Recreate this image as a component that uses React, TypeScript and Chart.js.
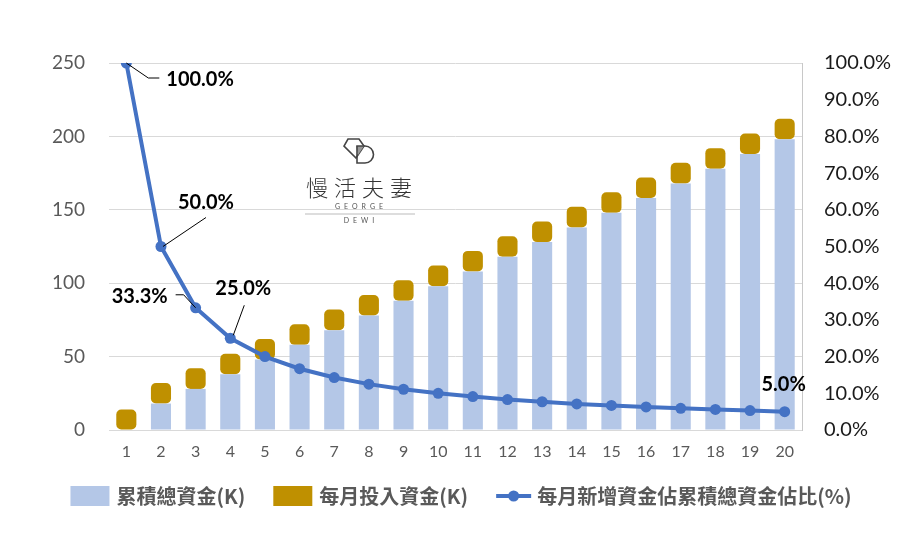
import React, { useEffect, useRef } from 'react';
import { Chart, ChartConfiguration, Plugin, registerables } from 'chart.js';

Chart.register(...registerables);

const months = ['1', '2', '3', '4', '5', '6', '7', '8', '9', '10', '11', '12', '13', '14', '15', '16', '17', '18', '19', '20'];
const totalFunds = [0, 18, 28, 38, 48, 58, 68, 78, 88, 98, 108, 118, 128, 138, 148, 158, 168, 178, 188, 198];
const monthlyFunds = [14, 14, 14, 14, 14, 14, 14, 14, 14, 14, 14, 14, 14, 14, 14, 14, 14, 14, 14, 14];
const newShare = [100, 50, 33.3, 25, 20, 16.7, 14.3, 12.5, 11.1, 10, 9.1, 8.3, 7.7, 7.1, 6.7, 6.3, 5.9, 5.6, 5.3, 5];
const seriesNames = ['累積總資金(K)', '每月投入資金(K)', '每月新增資金佔累積總資金佔比(%)'];

const BLUE = '#B4C7E7';
const GOLD = '#BF9000';
const LINE = '#4472C4';
const CJK = '"Noto Sans CJK TC", "Noto Sans", sans-serif';
const LATIN = 'Lato, "Noto Sans", sans-serif';

// where each shown data label sits relative to its point
type Spot = { index: number; align: CanvasTextAlign; dx: number; dy: number; leader: number[][] | null };
const labelSpots: Spot[] = [
  { index: 0, align: 'left', dx: 40, dy: 17, leader: [[0, 0], [22, 15], [33, 15]] },
  { index: 1, align: 'center', dx: 45, dy: -44, leader: [[2, 0], [45, -29]] },
  { index: 2, align: 'right', dx: -28, dy: -11, leader: [[0, 0], [-12, -13], [-20, -13]] },
  { index: 3, align: 'center', dx: 13, dy: -50, leader: [[3, -3], [14, -33]] },
  { index: 19, align: 'center', dx: -1, dy: -27, leader: null },
];

const dataLabels: Plugin<'bar'> = {
  id: 'dataLabels',
  afterDatasetsDraw(chart) {
    const ctx = chart.ctx;
    const meta = chart.getDatasetMeta(2);
    ctx.save();
    ctx.font = `bold 20px ${LATIN}`;
    ctx.fillStyle = '#000';
    ctx.strokeStyle = '#000';
    ctx.lineWidth = 1;
    ctx.textBaseline = 'middle';
    labelSpots.forEach((s) => {
      const pt = meta.data[s.index];
      if (!pt) return;
      if (s.leader) {
        ctx.beginPath();
        s.leader.forEach(([lx, ly], i) => {
          if (i === 0) ctx.moveTo(pt.x + lx, pt.y + ly);
          else ctx.lineTo(pt.x + lx, pt.y + ly);
        });
        ctx.stroke();
      }
      ctx.textAlign = s.align;
      ctx.fillText(newShare[s.index].toFixed(1) + '%', pt.x + s.dx, pt.y + s.dy);
    });
    ctx.restore();
  },
};

const watermark: Plugin<'bar'> = {
  id: 'watermark',
  beforeDatasetsDraw(chart) {
    const ctx = chart.ctx;
    const cx = 359;
    ctx.save();
    // logo mark
    ctx.strokeStyle = '#444';
    ctx.lineWidth = 1.6;
    ctx.beginPath();
    ctx.moveTo(348, 139);
    ctx.lineTo(359, 139);
    ctx.lineTo(364, 146);
    ctx.lineTo(356, 158);
    ctx.lineTo(344, 146);
    ctx.closePath();
    ctx.stroke();
    ctx.fillStyle = '#999';
    ctx.beginPath();
    ctx.moveTo(356, 146);
    ctx.lineTo(364, 146);
    ctx.lineTo(358, 155);
    ctx.closePath();
    ctx.fill();
    ctx.beginPath();
    ctx.moveTo(357, 146);
    ctx.lineTo(365, 146);
    ctx.arc(365, 154.5, 8.5, -Math.PI / 2, Math.PI / 2);
    ctx.lineTo(357, 163);
    ctx.closePath();
    ctx.stroke();

    ctx.fillStyle = '#333';
    ctx.textAlign = 'center';
    ctx.textBaseline = 'middle';
    ctx.font = `300 22px ${CJK}`;
    (ctx as any).letterSpacing = '6px';
    ctx.fillText('慢活夫妻', cx + 3, 188);
    ctx.font = `7px ${LATIN}`;
    (ctx as any).letterSpacing = '4px';
    ctx.fillStyle = '#555';
    ctx.fillText('GEORGE', cx + 2, 207);
    ctx.fillText('DEWI', cx + 2, 221);
    ctx.strokeStyle = '#aaa';
    ctx.lineWidth = 0.8;
    ctx.beginPath();
    ctx.moveTo(305, 214);
    ctx.lineTo(415, 214);
    ctx.stroke();
    ctx.restore();
  },
};

const bottomLegend: Plugin<'bar'> = {
  id: 'bottomLegend',
  afterDraw(chart) {
    const ctx = chart.ctx;
    const boxW = 39;
    const boxH = 20;
    const gap = 7;
    const itemGap = 28;
    ctx.save();
    ctx.font = `bold 20px ${CJK}`;
    const widths = seriesNames.map((n, i) => (i === 2 ? 41 : boxW + gap) + ctx.measureText(n).width);
    const total = widths.reduce((a, b) => a + b, 0) + itemGap * (widths.length - 1);
    let x = 461 - total / 2;
    const y = 496;
    seriesNames.forEach((name, i) => {
      if (i === 0 || i === 1) {
        ctx.fillStyle = i === 0 ? BLUE : GOLD;
        ctx.fillRect(x, y - boxH / 2, boxW, boxH);
      } else {
        ctx.strokeStyle = LINE;
        ctx.lineWidth = 4;
        ctx.beginPath();
        ctx.moveTo(x, y);
        ctx.lineTo(x + 35, y);
        ctx.stroke();
        ctx.fillStyle = LINE;
        ctx.beginPath();
        ctx.arc(x + 17.5, y, 5.5, 0, Math.PI * 2);
        ctx.fill();
      }
      ctx.fillStyle = '#595959';
      ctx.textAlign = 'left';
      ctx.textBaseline = 'middle';
      ctx.fillText(name, x + (i === 2 ? 41 : boxW + gap), y);
      x += widths[i] + itemGap;
    });
    ctx.restore();
  },
};

const App = () => {
  const ref = useRef<HTMLCanvasElement | null>(null);
  const chartRef = useRef<Chart | null>(null);

  useEffect(() => {
    const canvas = ref.current;
    if (!canvas) return;

    const config: ChartConfiguration<'bar'> = {
      type: 'bar',
      data: {
        labels: months,
        datasets: [
          {
            label: seriesNames[0],
            data: totalFunds,
            backgroundColor: BLUE,
            stack: 'funds',
            yAxisID: 'y',
            order: 1,
          },
          {
            label: seriesNames[1],
            data: monthlyFunds,
            backgroundColor: GOLD,
            borderRadius: 5,
            borderSkipped: false,
            stack: 'funds',
            yAxisID: 'y',
            order: 1,
          },
          {
            type: 'line' as any,
            label: seriesNames[2],
            data: newShare,
            borderColor: LINE,
            backgroundColor: LINE,
            borderWidth: 4,
            pointRadius: 5.5,
            pointBorderWidth: 0,
            pointBackgroundColor: LINE,
            yAxisID: 'y1',
            order: 0,
          } as any,
        ],
      },
      options: {
        responsive: false,
        animation: false,
        layout: { padding: { top: 63, bottom: 0, left: 0, right: 0 } },
        datasets: { bar: { categoryPercentage: 1, barPercentage: 0.58 } },
        plugins: {
          legend: { display: false },
          tooltip: { enabled: false },
        },
        scales: {
          x: {
            stacked: true,
            grid: { display: false, drawTicks: false },
            border: { display: false },
            ticks: { color: '#595959', font: { family: LATIN, size: 16 }, padding: 12 },
            afterFit: (s: any) => { s.height = 116; },
          },
          y: {
            stacked: true,
            position: 'left',
            min: 0,
            max: 250,
            ticks: { stepSize: 50, color: '#595959', font: { family: LATIN, size: 19 }, padding: 24 },
            grid: { color: '#d9d9d9', lineWidth: 1, drawTicks: false },
            border: { display: false },
            afterFit: (s: any) => { s.width = 109; },
          },
          y1: {
            position: 'right',
            min: 0,
            max: 100,
            ticks: {
              stepSize: 10,
              color: '#1a1a1a',
              font: { family: LATIN, size: 20 },
              padding: 22,
              callback: (v: any) => Number(v).toFixed(1) + '%',
            },
            grid: { display: false, drawTicks: false },
            border: { display: true, color: '#c8c8c8', width: 1 },
            afterFit: (s: any) => { s.width = 116; },
          },
        },
      } as any,
      plugins: [watermark, dataLabels, bottomLegend],
    };

    chartRef.current?.destroy();
    chartRef.current = new Chart(canvas, config);

    return () => {
      chartRef.current?.destroy();
      chartRef.current = null;
    };
  }, []);

  return (
    <div style={{ position: 'fixed', left: 0, top: 0, width: 918, height: 546, background: '#fff' }}>
      <canvas ref={ref} width={918} height={546} style={{ display: 'block' }}></canvas>
    </div>
  );
};

export default App;
